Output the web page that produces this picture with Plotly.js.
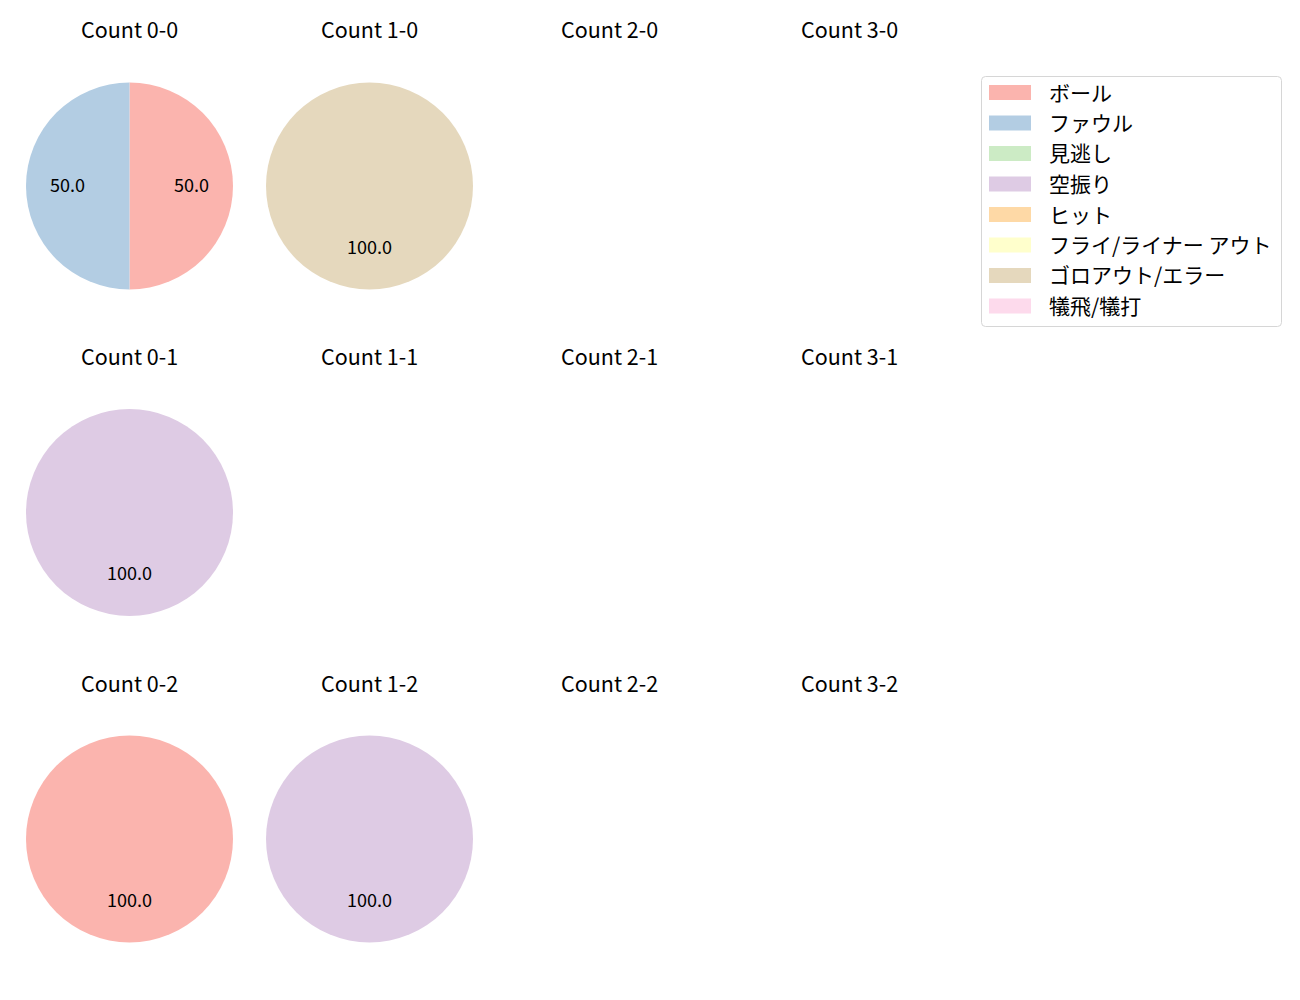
<!DOCTYPE html>
<html>
<head>
<meta charset="utf-8">
<script src="https://cdn.plot.ly/plotly-3.0.1.min.js"></script>
<style>html,body{margin:0;padding:0;background:#fff;}#chart{width:1300px;height:1000px;}</style>
</head>
<body>
<div id="chart"></div>
<script>
// ---- data ----
const categories = ["ボール", "ファウル", "見逃し", "空振り", "ヒット", "フライ/ライナー アウト", "ゴロアウト/エラー", "犠飛/犠打"];
const colors = ["#fbb4ae", "#b3cde3", "#ccebc5", "#decbe4", "#fed9a6", "#ffffcc", "#e5d8bd", "#fddaec"];
const countLabels = ["Count 0-0", "Count 1-0", "Count 2-0", "Count 3-0",
                     "Count 0-1", "Count 1-1", "Count 2-1", "Count 3-1",
                     "Count 0-2", "Count 1-2", "Count 2-2", "Count 3-2"];
// percentage per category (same order as categories) for each count
const count00 = [50, 50, 0, 0, 0, 0, 0, 0];
const count10 = [0, 0, 0, 0, 0, 0, 100, 0];
const count20 = [0, 0, 0, 0, 0, 0, 0, 0];
const count30 = [0, 0, 0, 0, 0, 0, 0, 0];
const count01 = [0, 0, 0, 100, 0, 0, 0, 0];
const count11 = [0, 0, 0, 0, 0, 0, 0, 0];
const count21 = [0, 0, 0, 0, 0, 0, 0, 0];
const count31 = [0, 0, 0, 0, 0, 0, 0, 0];
const count02 = [100, 0, 0, 0, 0, 0, 0, 0];
const count12 = [0, 0, 0, 100, 0, 0, 0, 0];
const count22 = [0, 0, 0, 0, 0, 0, 0, 0];
const count32 = [0, 0, 0, 0, 0, 0, 0, 0];
const countValues = [count00, count10, count20, count30, count01, count11, count21, count31, count02, count12, count22, count32];

// ---- layout geometry (pixels) ----
const W = 1300, H = 1000;
const FONT = '"Noto Sans CJK JP", "Noto Sans", sans-serif';
const colCx = [129.5, 369.5, 609.5, 849.5];
const rowCy = [186, 512.5, 839];
const rowTitleY = [28.5, 355.5, 682];
const R = 103.5;

const traces = [];
const annotations = [];
const shapes = [];

countValues.forEach((vals, i) => {
  const r = Math.floor(i / 4), c = i % 4;
  const cx = colCx[c], cy = rowCy[r];
  annotations.push({
    text: countLabels[i], xref: 'paper', yref: 'paper',
    x: cx / W, y: 1 - rowTitleY[r] / H, xanchor: 'center', yanchor: 'middle',
    showarrow: false, font: {family: FONT, size: 21.5, color: '#000'}
  });
  const total = vals.reduce((a, b) => a + b, 0);
  if (total <= 0) return;
  const labs = [], vs = [], cols = [];
  vals.forEach((v, k) => { if (v > 0) { labs.push(categories[k]); vs.push(v); cols.push(colors[k]); } });
  traces.push({
    type: 'pie', labels: labs, values: vs, sort: false, direction: 'clockwise', rotation: 0,
    marker: {colors: cols, line: {width: 0}},
    textinfo: 'none', hoverinfo: 'label+percent', showlegend: false,
    domain: {x: [(cx - R) / W, (cx + R) / W], y: [1 - (cy + R) / H, 1 - (cy - R) / H]}
  });
  // percentage labels at 0.6 radius, like autopct
  let cum = 0;
  vs.forEach(v => {
    const mid = (cum + v / 2) / total * 2 * Math.PI;
    cum += v;
    const px = cx + 0.6 * R * Math.sin(mid);
    const py = cy - 0.6 * R * Math.cos(mid) - 2.5;
    annotations.push({
      text: (v / total * 100).toFixed(1), xref: 'paper', yref: 'paper',
      x: px / W, y: 1 - py / H, xanchor: 'center', yanchor: 'middle',
      showarrow: false, font: {family: FONT, size: 18, color: '#000'}
    });
  });
});

// ---- legend (drawn manually to match the reference patches) ----
const lgX0 = 981.5, lgX1 = 1281.5, lgY0 = 76.5, lgY1 = 326.5, rad = 4;
const px2x = v => v / W, px2y = v => 1 - v / H;
shapes.push({
  type: 'path', xref: 'paper', yref: 'paper',
  path: `M ${px2x(lgX0 + rad)},${px2y(lgY0)} L ${px2x(lgX1 - rad)},${px2y(lgY0)} Q ${px2x(lgX1)},${px2y(lgY0)} ${px2x(lgX1)},${px2y(lgY0 + rad)} L ${px2x(lgX1)},${px2y(lgY1 - rad)} Q ${px2x(lgX1)},${px2y(lgY1)} ${px2x(lgX1 - rad)},${px2y(lgY1)} L ${px2x(lgX0 + rad)},${px2y(lgY1)} Q ${px2x(lgX0)},${px2y(lgY1)} ${px2x(lgX0)},${px2y(lgY1 - rad)} L ${px2x(lgX0)},${px2y(lgY0 + rad)} Q ${px2x(lgX0)},${px2y(lgY0)} ${px2x(lgX0 + rad)},${px2y(lgY0)} Z`,
  line: {color: '#d6d6d6', width: 1}, fillcolor: 'rgba(255,255,255,0.8)'
});
categories.forEach((cat, k) => {
  const yc = 92.5 + k * 30.5;
  shapes.push({
    type: 'rect', xref: 'paper', yref: 'paper',
    x0: px2x(989), x1: px2x(1031), y0: px2y(yc - 7.5), y1: px2y(yc + 7.5),
    line: {width: 0}, fillcolor: colors[k]
  });
  annotations.push({
    text: cat, xref: 'paper', yref: 'paper', x: px2x(1046.5), y: px2y(yc - 1),
    xanchor: 'left', yanchor: 'middle', showarrow: false,
    font: {family: FONT, size: 21, color: '#000'}
  });
});

const layout = {
  width: W, height: H, margin: {l: 0, r: 0, t: 0, b: 0},
  paper_bgcolor: '#fff', plot_bgcolor: '#fff', showlegend: false,
  annotations: annotations, shapes: shapes, font: {family: FONT}
};
Plotly.newPlot('chart', traces, layout, {displayModeBar: false, staticPlot: true});
</script>
</body>
</html>
